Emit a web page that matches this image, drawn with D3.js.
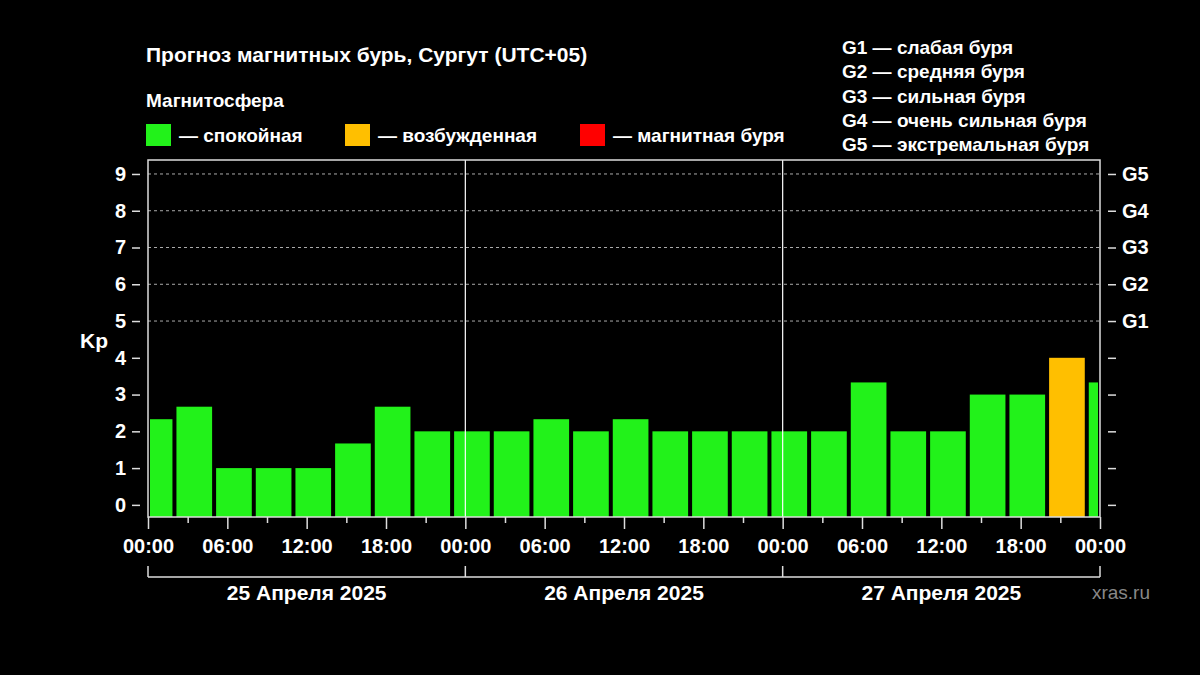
<!DOCTYPE html>
<html><head><meta charset="utf-8">
<script src="https://cdn.jsdelivr.net/npm/d3@7"></script>
<style>body{margin:0;background:#000;}svg{display:block;font-family:"Liberation Sans",Arial,sans-serif;font-weight:bold;}</style>
</head><body><svg id="c" width="1200" height="675"></svg>
<script>
// Kp forecast, hours from 25 Apr 00:00 local (UTC+05)
const barStart = [0, 2, 5, 8, 11, 14, 17, 20, 23, 26, 29, 32, 35, 38, 41, 44, 47, 50, 53, 56, 59, 62, 65, 68, 71];
const barEnd   = [2, 5, 8, 11, 14, 17, 20, 23, 26, 29, 32, 35, 38, 41, 44, 47, 50, 53, 56, 59, 62, 65, 68, 71, 72];
const kpValues = [2.33, 2.67, 1, 1, 1, 1.67, 2.67, 2, 2, 2, 2.33, 2, 2.33, 2, 2, 2, 2, 2, 3.33, 2, 2, 3, 3, 4, 3.33];
const dayLabels = ['25 Апреля 2025', '26 Апреля 2025', '27 Апреля 2025'];
const gLevels = [['G1', 5], ['G2', 6], ['G3', 7], ['G4', 8], ['G5', 9]];
const gLegend = ['G1 — слабая буря', 'G2 — средняя буря', 'G3 — сильная буря', 'G4 — очень сильная буря', 'G5 — экстремальная буря'];
const stateLegend = [['— спокойная', '#22f21a'], ['— возбужденная', '#ffbf00'], ['— магнитная буря', '#ff0000']];

const svg = d3.select('#c');
svg.append('rect').attr('width', 1200).attr('height', 675).attr('fill', '#000');

const x = d3.scaleLinear().domain([0, 72]).range([148, 1100]);
const y = d3.scaleLinear().domain([-0.33, 9.38]).range([517, 160]);
const color = v => v >= 5 ? '#ff0000' : v >= 4 ? '#ffbf00' : '#22f21a';

// dashed grid for G levels
svg.selectAll('.grid').data(gLevels).enter().append('line')
    .attr('x1', x(0)).attr('x2', x(72))
    .attr('y1', d => y(d[1])).attr('y2', d => y(d[1]))
    .attr('stroke', '#aaa').attr('stroke-width', 1).attr('stroke-dasharray', '3,3');

// bars
svg.selectAll('.bar').data(kpValues).enter().append('rect')
    .attr('x', (d, i) => x(barStart[i]) + (i === 0 ? 2 : 2))
    .attr('width', (d, i) => x(barEnd[i]) - x(barStart[i]) - 4)
    .attr('y', d => y(d))
    .attr('height', d => y(-0.33) - y(d))
    .attr('fill', color);

// day separators
[24, 48].forEach(h => svg.append('line')
    .attr('x1', x(h)).attr('x2', x(h)).attr('y1', 160).attr('y2', 517)
    .attr('stroke', '#fff').attr('stroke-width', 1.2));

// frame
svg.append('rect').attr('x', 148).attr('y', 160).attr('width', 952).attr('height', 357)
    .attr('fill', 'none').attr('stroke', '#ddd').attr('stroke-width', 1.5);

// axes
const styleAxis = g => {
    g.select('.domain').remove();
    g.selectAll('line').attr('stroke', '#ddd').attr('stroke-width', 1.5);
    g.selectAll('text').attr('fill', '#fff').attr('font-size', 20).attr('font-weight', 'bold');
};
svg.append('g').attr('transform', 'translate(140,0)')
    .call(d3.axisLeft(y).tickValues(d3.range(0, 10)).tickSize(8).tickPadding(6).tickFormat(d3.format('d')))
    .call(styleAxis);
svg.append('g').attr('transform', 'translate(1108,0)')
    .call(d3.axisRight(y).tickValues(d3.range(0, 10)).tickSize(8).tickPadding(6)
        .tickFormat(d => { const f = gLevels.find(g => g[1] === d); return f ? f[0] : ''; }))
    .call(styleAxis);

const bottom = svg.append('g').attr('transform', 'translate(0,517)');
bottom.call(d3.axisBottom(x).tickValues(d3.range(0, 73, 6)).tickSize(12).tickPadding(10)
    .tickFormat(d => d3.format('02d')(d % 24) + ':00')).call(styleAxis);
svg.append('g').attr('transform', 'translate(0,517)')
    .call(d3.axisBottom(x).tickValues(d3.range(3, 72, 6)).tickSize(6).tickFormat(''))
    .call(styleAxis);

// day brackets
const br = svg.append('g').attr('stroke', '#ddd').attr('stroke-width', 1.5).attr('fill', 'none');
br.append('line').attr('x1', x(0)).attr('x2', x(72)).attr('y1', 577).attr('y2', 577);
[0, 24, 48, 72].forEach(h => br.append('line').attr('x1', x(h)).attr('x2', x(h)).attr('y1', 566).attr('y2', 577));
svg.selectAll('.day').data(dayLabels).enter().append('text')
    .attr('x', (d, i) => x(i * 24 + 12)).attr('y', 600).attr('text-anchor', 'middle')
    .attr('fill', '#fff').attr('font-size', 21).text(d => d);

svg.append('text').attr('x', 80).attr('y', 348).attr('fill', '#fff').attr('font-size', 21).text('Kp');
svg.append('text').attr('x', 1150).attr('y', 599).attr('text-anchor', 'end')
    .attr('fill', '#888').attr('font-size', 19).attr('font-weight', 'normal').text('xras.ru');

// titles and legends
svg.append('text').attr('x', 146).attr('y', 62).attr('fill', '#fff').attr('font-size', 21)
    .text('Прогноз магнитных бурь, Сургут (UTC+05)');
svg.append('text').attr('x', 146).attr('y', 107).attr('fill', '#fff').attr('font-size', 19).text('Магнитосфера');
const lg = svg.selectAll('.lg').data(stateLegend).enter().append('g')
    .attr('transform', (d, i) => `translate(${[146, 345, 580][i]},124)`);
lg.append('rect').attr('width', 25).attr('height', 22).attr('fill', d => d[1]);
lg.append('text').attr('x', 33).attr('y', 18).attr('fill', '#fff').attr('font-size', 19).text(d => d[0]);

svg.selectAll('.gl').data(gLegend).enter().append('text')
    .attr('x', 842).attr('y', (d, i) => 54 + i * 24.3).attr('fill', '#fff').attr('font-size', 19).text(d => d);
</script></body></html>
